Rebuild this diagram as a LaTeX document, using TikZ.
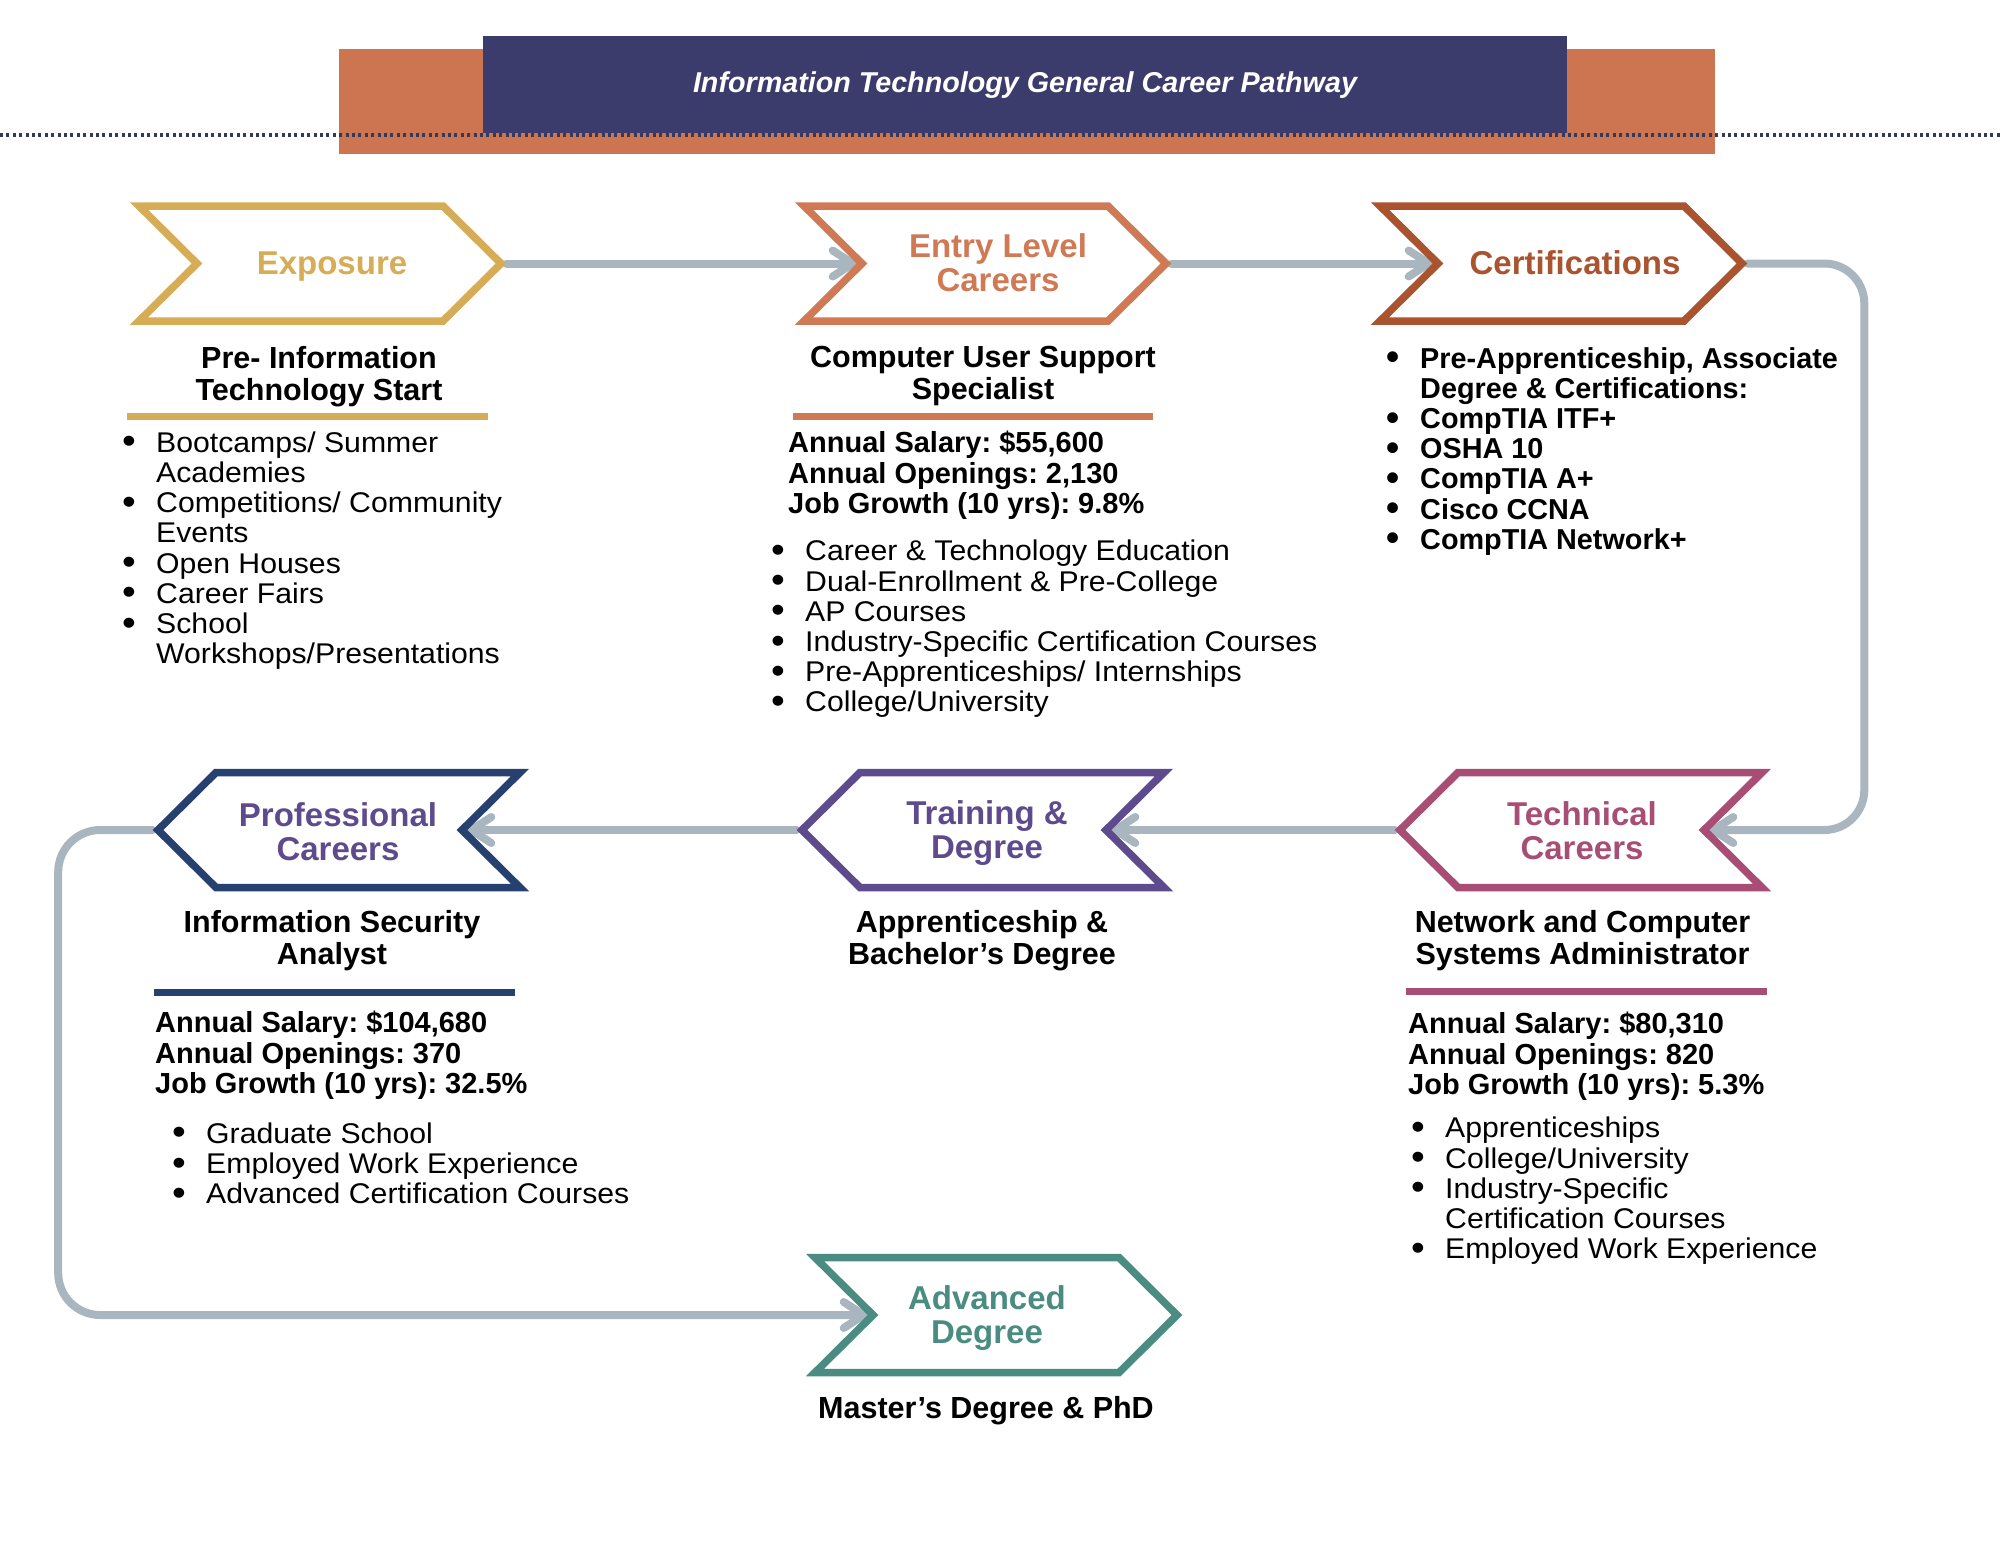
\documentclass[tikz,border=0pt]{standalone}
\usepackage{fontspec}
\usepackage{graphicx}
\setmainfont{Liberation Sans}
\newfontfamily\listfont{Liberation Sans}[FakeStretch=1.06]
\frenchspacing
\usetikzlibrary{arrows.meta,backgrounds}
\definecolor{navyT}{HTML}{3C3C6C}
\definecolor{orangeT}{HTML}{CD7550}
\definecolor{dotC}{HTML}{33395F}
\definecolor{goldC}{HTML}{D6AC56}
\definecolor{entryC}{HTML}{CF7A55}
\definecolor{certC}{HTML}{A9532F}
\definecolor{techC}{HTML}{A84E74}
\definecolor{trainC}{HTML}{5E4B8E}
\definecolor{profC}{HTML}{26406F}
\definecolor{advC}{HTML}{4A8C81}
\definecolor{grayC}{HTML}{A9B6BF}
\newcommand\bul{\makebox[34pt][l]{\raisebox{-1.6pt}{\scalebox{1.3}{\textbullet}}}}
\newcommand\ind{\hspace*{34pt}}
% right-pointing chevron: name, centerline left x, centre y, colour
\newcommand\chevR[4]{%
  \draw[chevline,draw=#4] (#2,#3-57.5) -- (#2+304,#3-57.5) -- (#2+362,#3) -- (#2+304,#3+57.5) -- (#2,#3+57.5) -- (#2+58,#3) -- cycle;
  \coordinate (#1-tip) at (#2+367.3,#3);
  \coordinate (#1-notch) at (#2+52.7,#3);
}
% left-pointing chevron: name, centerline right x, centre y, colour
\newcommand\chevL[4]{%
  \draw[chevline,draw=#4] (#2,#3-57.5) -- (#2-304,#3-57.5) -- (#2-362,#3) -- (#2-304,#3+57.5) -- (#2,#3+57.5) -- (#2-58,#3) -- cycle;
  \coordinate (#1-tip) at (#2-367.3,#3);
  \coordinate (#1-notch) at (#2-52.7,#3);
}
\begin{document}
\begin{tikzpicture}[x=1pt,y=-1pt,
  chevline/.style={line width=7.5pt, fill=white, line join=miter, miter limit=12},
  chevlabel/.style={anchor=north, inner sep=0pt, align=center, font=\fontsize{33pt}{34pt}\selectfont\bfseries, execute at begin node={\rule{0pt}{26pt}}},
  heading/.style={anchor=north, inner sep=0pt, align=center, font=\fontsize{30.5pt}{32pt}\selectfont\bfseries, execute at begin node={\rule{0pt}{25pt}}},
  stats/.style={anchor=north west, inner sep=0pt, align=left, font=\fontsize{29pt}{30.4pt}\selectfont\bfseries, execute at begin node={\rule{0pt}{23pt}}},
  blist/.style={anchor=north west, inner sep=0pt, align=left, font=\listfont\fontsize{28.5pt}{30.2pt}\selectfont, execute at begin node={\rule{0pt}{23pt}}},
  bblist/.style={blist, font=\fontsize{28.8pt}{30.2pt}\selectfont\bfseries},
  conn/.style={draw=grayC, line width=8pt, line cap=round, line join=round, -{Straight Barb[length=20pt,width=26pt,round]}},
  ulbar/.style={line width=7pt}
]
\useasboundingbox (0,0) rectangle (2000,1545);
% title band
\fill[orangeT] (339,49) rectangle (1715,154);
\fill[navyT] (483,36) rectangle (1567,133);
\draw[dotC, line width=4pt, dash pattern=on 3pt off 3.4pt] (0,135) -- (2000,135);
\node[anchor=base, text=white, inner sep=0pt, font=\fontsize{28.7pt}{30pt}\selectfont\bfseries\itshape] (title) at (1025,92.7) {Information Technology General Career Pathway};

% chevrons
\chevR{expo}{139}{263.5}{goldC}
\node[chevlabel, text=goldC] (expoL) at (332,248) {Exposure};
\chevR{entry}{804}{263.5}{entryC}
\node[chevlabel, text=entryC] (entryL) at (998,233) {Entry Level\\Careers};
\chevR{cert}{1380}{263.5}{certC}
\node[chevlabel, text=certC] (certL) at (1575,248) {Certifications};
\chevL{prof}{520}{830}{profC}
\node[chevlabel, text=trainC] (profL) at (338,802.5) {Professional\\Careers};
\chevL{train}{1164}{830}{trainC}
\node[chevlabel, text=trainC] (trainL) at (987,800.5) {Training \&\\Degree};
\chevL{tech}{1762}{830}{techC}
\node[chevlabel, text=techC] (techL) at (1582,801.5) {Technical\\Careers};
\chevR{adv}{815}{1315}{advC}
\node[chevlabel, text=advC] (advL) at (987,1285) {Advanced\\Degree};

% column 1
\node[heading] (expoH) at (319,346) {Pre- Information\\Technology Start};
\draw[ulbar, goldC] (127,416.5) -- (488,416.5);
\node[blist] (expoB) at (122,431.5) {\bul Bootcamps/ Summer\\\ind Academies\\\bul Competitions/ Community\\\ind Events\\\bul Open Houses\\\bul Career Fairs\\\bul School\\\ind Workshops/Presentations};

% column 2
\node[heading] (entryH) at (983,346) {Computer User Support\\Specialist};
\draw[ulbar, entryC] (793,416.5) -- (1153,416.5);
\node[stats] (entryS) at (788,431) {Annual Salary: \$55,600\\Annual Openings: 2,130\\Job Growth (10 yrs): 9.8\%};
\node[blist] (entryB) at (771,540) {\bul Career \& Technology Education\\\bul Dual-Enrollment \& Pre-College\\\bul AP Courses\\\bul Industry-Specific Certification Courses\\\bul Pre-Apprenticeships/ Internships\\\bul College/University};

% column 3
\node[bblist] (certB) at (1386,347) {\bul Pre-Apprenticeship, Associate\\\ind Degree \& Certifications:\\\bul CompTIA ITF+\\\bul OSHA 10\\\bul CompTIA A+\\\bul Cisco CCNA\\\bul CompTIA Network+};

% row 2
\node[heading] (profH) at (332,910.5) {Information Security\\Analyst};
\draw[ulbar, profC] (154,992) -- (515,992);
\node[stats] (profS) at (155,1011) {Annual Salary: \$104,680\\Annual Openings: 370\\Job Growth (10 yrs): 32.5\%};
\node[blist] (profB) at (172,1122.5) {\bul Graduate School\\\bul Employed Work Experience\\\bul Advanced Certification Courses};

\node[heading] (trainH) at (982,910.5) {Apprenticeship \&\\Bachelor’s Degree};

\node[heading] (techH) at (1582.5,910.5) {Network and Computer\\Systems Administrator};
\draw[ulbar, techC] (1406,991.5) -- (1767,991.5);
\node[stats] (techS) at (1408,1012) {Annual Salary: \$80,310\\Annual Openings: 820\\Job Growth (10 yrs): 5.3\%};
\node[blist] (techB) at (1411,1117) {\bul Apprenticeships\\\bul College/University\\\bul Industry-Specific\\\ind Certification Courses\\\bul Employed Work Experience};

% row 3
\node[heading, anchor=base] (advH) at (986,1418) {Master’s Degree \& PhD};

% connectors
\begin{pgfonlayer}{background}
\draw[conn] (expo-tip) -- (entry-notch);
\draw[conn] (entry-tip) -- (cert-notch);
\draw[conn, rounded corners=40pt] (cert-tip) -- ++(117,0) |- (tech-notch);
\draw[conn] (tech-tip) -- (train-notch);
\draw[conn] (train-tip) -- (prof-notch);
\draw[conn, rounded corners=42pt] (prof-tip) -- ++(-94.5,0) |- (adv-notch);
\end{pgfonlayer}
\end{tikzpicture}
\end{document}
